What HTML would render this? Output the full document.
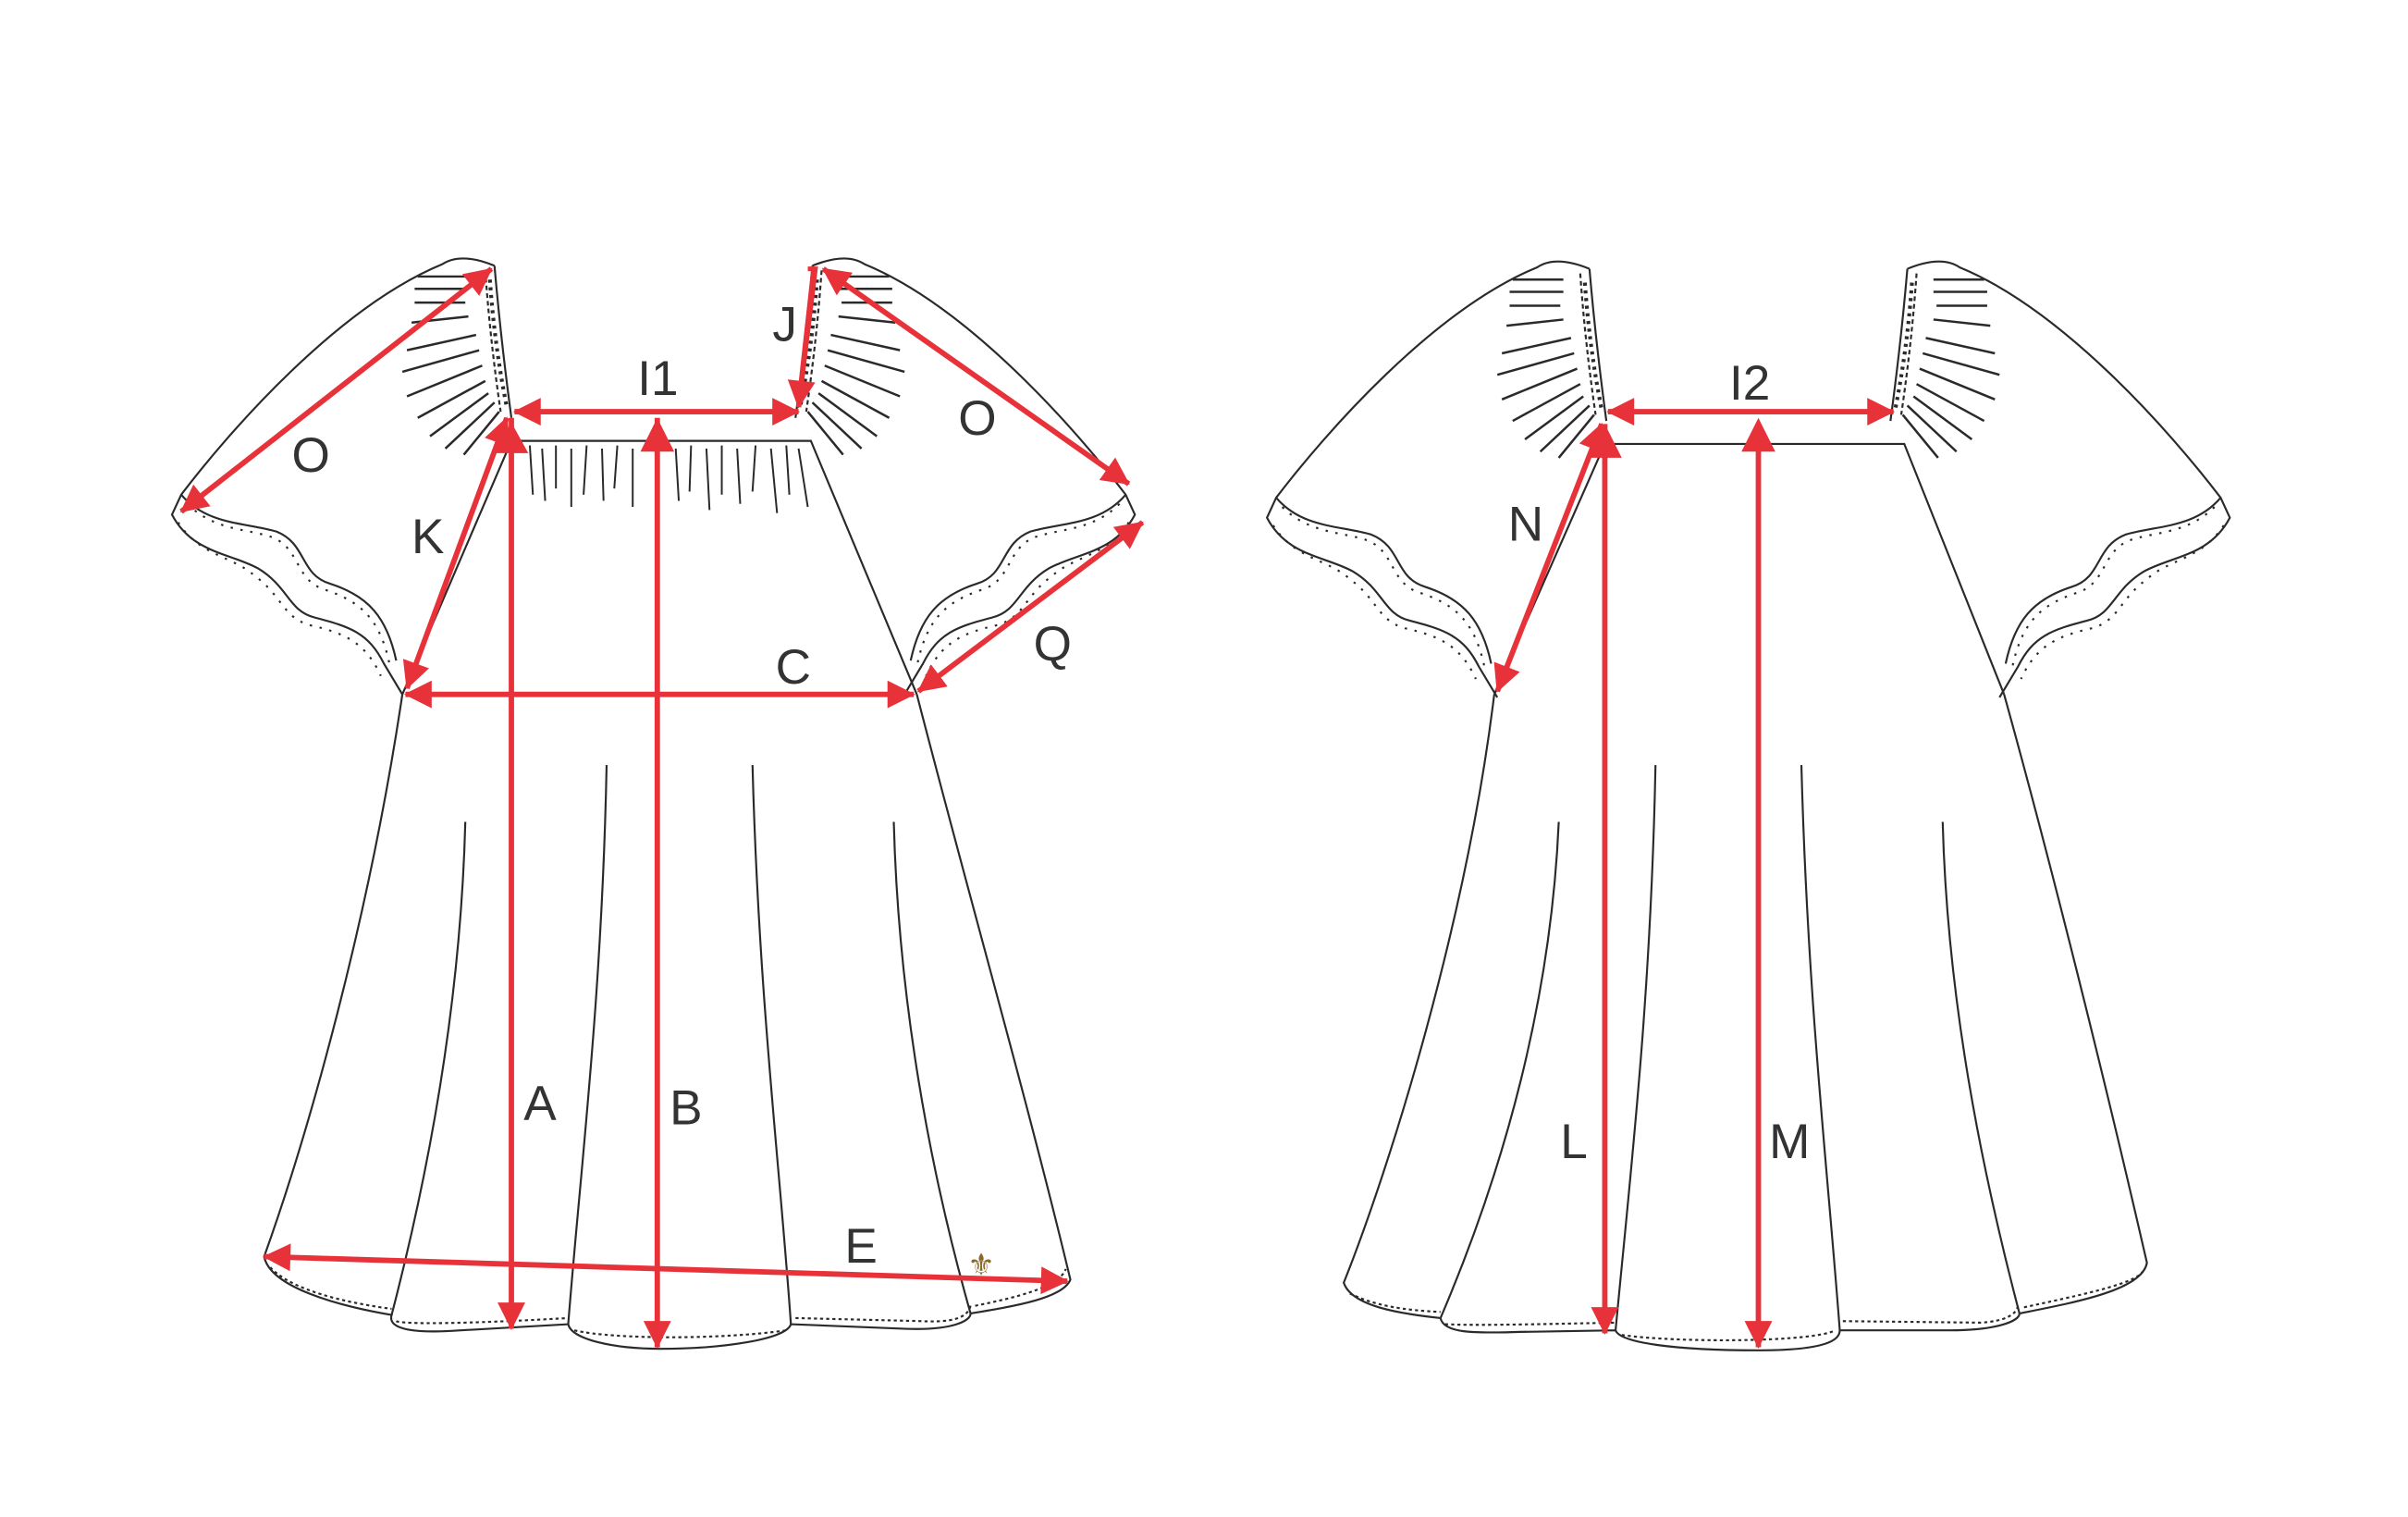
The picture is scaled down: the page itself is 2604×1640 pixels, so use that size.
<!DOCTYPE html>
<html><head><meta charset="utf-8"><style>
html,body{margin:0;padding:0;background:#fff;}
svg{display:block;}
text{font-family:"Liberation Sans",sans-serif;fill:#333;font-size:32px;}
</style></head><body>
<svg width="2604" height="1640" viewBox="0 0 1568 987.5" preserveAspectRatio="none" xmlns="http://www.w3.org/2000/svg">
<defs>
<marker id="ah" viewBox="0 0 10 10" refX="9.5" refY="5" markerWidth="22" markerHeight="18" markerUnits="userSpaceOnUse" orient="auto-start-reverse">
<path d="M0,0 L10,5 L0,10 z" fill="#e8323a"/>
</marker>
<g id="sleeve" fill="none" stroke="#2a2a2a" stroke-width="1.3">
<path d="M322,173 Q300,164 288,172 C220,200 150,280 118,322 L112,335 C125,360 150,360 168,370 C188,382 188,398 205,402 C228,408 240,412 250,432 L262,452"/>
<path d="M118,322 C135,342 160,340 180,346 C200,354 195,374 215,380 C240,388 252,402 258,430"/>
<path d="M122,328 C140,346 162,344 178,350 C196,358 192,378 212,384 C236,392 248,404 254,434" stroke-dasharray="1.5,5"/>
<path d="M116,340 C130,362 152,362 166,375 C184,388 184,402 202,407 C224,412 238,418 248,440" stroke-dasharray="1.5,5"/>
<path d="M322,173 Q326,220 333,272"/>
<path d="M316,176 Q319,220 326,268" stroke-dasharray="3,2"/>
<path d="M319,182 Q322,225 330,265" stroke-dasharray="2,3" stroke-width="2.5"/>
<path d="M305,180 L272,180 M305,188 L270,188 M303,197 L270,197 M305,206 L268,210 M310,218 L265,228 M312,228 L262,242 M314,238 L265,258 M316,248 L272,272 M318,256 L280,284 M322,262 L290,292 M325,268 L302,296" stroke-width="1.5"/>
</g>
<g id="body" fill="none" stroke="#2a2a2a" stroke-width="1.3">
<path d="M262,452 C240,600 200,740 172,818 C176,838 220,850 255,856 C252,866 272,868 300,866 L370,862 C372,872 400,878 430,878 C470,878 512,872 515,862 L590,865 C620,866 632,860 632,855 C662,850 692,845 697,833 C670,720 630,580 597,452"/>
<path d="M176,825 C190,840 225,848 255,852 M258,860 C262,862 300,862 370,858 M374,866 C400,872 470,872 512,866 M518,858 L600,860 C620,861 630,858 632,850 M635,850 C660,845 690,838 694,826" stroke-dasharray="2,2"/>
<path d="M303,535 C300,650 280,760 255,856 M395,498 C392,650 378,760 370,862 M490,498 C494,650 508,760 515,862 M582,535 C585,650 605,760 632,855"/>
<path d="M262,452 L333,287 L528,287 L597,452"/>
</g>
</defs>

<!-- FRONT -->
<use href="#sleeve"/>
<use href="#sleeve" transform="translate(851,0) scale(-1,1)"/>
<use href="#body"/>
<g stroke="#2a2a2a" stroke-width="1.2" fill="none">
<path d="M345,290 L347,322 M353,292 L355,326 M362,290 L362,318 M372,292 L372,330 M382,290 L380,322 M392,292 L393,326 M402,290 L400,318 M412,292 L412,330 M440,292 L442,326 M450,290 L449,320 M460,292 L462,332 M470,290 L470,322 M480,292 L482,328 M492,290 L490,320 M502,292 L506,334 M512,290 L514,322 M520,292 L526,330"/>
</g>
<text x="630" y="830" style="font-size:20px;fill:#8a6a2a">⚜</text>

<g stroke="#e8323a" stroke-width="3.5" fill="none" marker-start="url(#ah)" marker-end="url(#ah)">
<line x1="320" y1="175" x2="118" y2="333"/>
<line x1="335" y1="268" x2="520" y2="268"/>
<line x1="536" y1="175" x2="735" y2="315"/>
<line x1="330" y1="272" x2="265" y2="448"/>
<line x1="264" y1="452" x2="595" y2="452"/>
<line x1="744" y1="340" x2="598" y2="450"/>
<line x1="172" y1="818" x2="695" y2="834"/>
</g>
<g stroke="#e8323a" stroke-width="3.5" fill="none" marker-end="url(#ah)">
<path d="M530,175 L520,265"/>
<line x1="333" y1="272" x2="333" y2="865"/>
<line x1="428" y1="272" x2="428" y2="877"/>
</g>
<polyline points="526,175 531,175 520,265" stroke="#e8323a" stroke-width="3" fill="none"/>
<path d="M333,275 l-11,20 h22 z M428,272 l-11,22 h22 z" fill="#e8323a"/>
<text x="415" y="257">I1</text>
<text x="503" y="222">J</text>
<text x="190" y="307">O</text>
<text x="624" y="283">O</text>
<text x="268" y="360">K</text>
<text x="505" y="445">C</text>
<text x="673" y="430">Q</text>
<text x="341" y="729">A</text>
<text x="436" y="732">B</text>
<text x="550" y="822">E</text>

<!-- BACK -->
<g transform="translate(713,2)">
<use href="#sleeve"/>
<use href="#sleeve" transform="translate(851,0) scale(-1,1)"/>
</g>
<g fill="none" stroke="#2a2a2a" stroke-width="1.3">
<path d="M973,452 C955,600 905,760 875,835 C880,850 910,855 938,858 C940,868 960,868 990,867 L1052,866 C1055,874 1090,879 1145,879 C1190,879 1198,872 1198,866 L1270,866 C1300,866 1315,860 1315,855 C1350,848 1395,840 1398,822 C1370,700 1335,560 1305,452"/>
<path d="M879,842 C895,850 915,853 938,854 M941,862 C960,863 1000,862 1052,861 M1056,869 C1090,874 1180,874 1195,866 M1200,860 L1290,861 C1305,860 1313,856 1314,850 M1318,851 C1350,844 1390,836 1395,828" stroke-dasharray="2,2"/>
<path d="M1015,535 C1010,650 980,760 938,858 M1078,498 C1075,650 1062,760 1052,866 M1173,498 C1177,650 1190,760 1198,866 M1265,535 C1268,650 1290,760 1315,855"/>
<path d="M973,452 L1045,289 L1240,289 L1305,452"/>
</g>
<g stroke="#e8323a" stroke-width="3.5" fill="none" marker-start="url(#ah)" marker-end="url(#ah)">
<line x1="1047" y1="268" x2="1233" y2="268"/>
<line x1="1043" y1="276" x2="975" y2="450"/>
</g>
<g stroke="#e8323a" stroke-width="3.5" fill="none" marker-end="url(#ah)">
<line x1="1045" y1="276" x2="1045" y2="868"/>
<line x1="1145" y1="276" x2="1145" y2="877"/>
</g>
<path d="M1045,276 l-11,22 h22 z M1145,272 l-11,22 h22 z" fill="#e8323a"/>
<text x="1126" y="260">I2</text>
<text x="982" y="352">N</text>
<text x="1016" y="754">L</text>
<text x="1152" y="754">M</text>
</svg>
</body></html>
